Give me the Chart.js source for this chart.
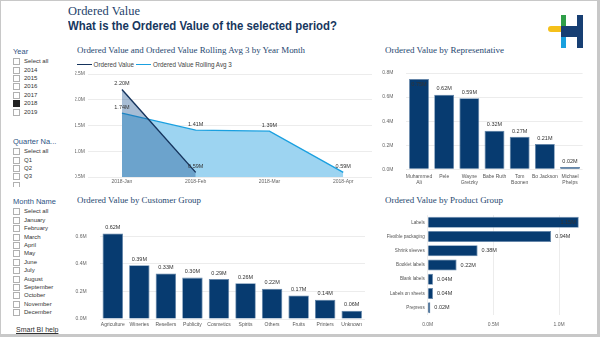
<!DOCTYPE html>
<html>
<head>
<meta charset="utf-8">
<script src="https://cdn.jsdelivr.net/npm/chart.js@4.4.0/dist/chart.umd.min.js"></script>
<style>
  body { margin: 0; width: 600px; height: 337px; position: relative; overflow: hidden; background: #fff; font-family: "Liberation Sans", Arial, sans-serif; }
  .frame { position: absolute; left: 0; top: 0; width: 600px; height: 337px; box-sizing: border-box; border: 1px solid #c8c8c8; border-right-width: 3px; border-bottom-width: 3px; }
  .abs { position: absolute; white-space: nowrap; }
  .fit { display: inline-block; transform-origin: left center; }
  .ptitle { font-family: "Liberation Serif", serif; font-size: 13px; color: #1e3f6b; }
  .psub { font-weight: bold; font-size: 12px; color: #17375e; }
  .ctitle { font-family: "Liberation Serif", serif; font-size: 9px; color: #26476f; }
  .shead { font-size: 7.5px; color: #2c5283; }
  .sitem { font-size: 6px; color: #333; line-height: 6px; }
  .box { position: absolute; width: 5px; height: 5px; border: 1px solid #b0b0b0; background: #fff; }
  .box.on { background: #222; border-color: #222; }
  .chart { position: absolute; }
  .legend { font-size: 6.3px; color: #444; }
  .lg-line { position: absolute; height: 1.5px; }
</style>
</head>
<body>
<div class="frame"></div>

<div class="abs ptitle" style="left:68px; top:3px;"><span class="fit" data-w="72">Ordered Value</span></div>
<div class="abs psub" style="left:68px; top:19px;"><span class="fit" data-w="269">What is the Ordered Value of the selected period?</span></div>

<!-- logo -->
<div class="abs" style="left:548px; top:26px; width:14px; height:6px; background:#f5c01a; border-radius:3px 0 0 3px;"></div>
<div class="abs" style="left:561px; top:15px; width:5px; height:11px; background:#2e9e48;"></div>
<div class="abs" style="left:561px; top:37px; width:5px; height:11px; background:#19a0de;"></div>
<div class="abs" style="left:561px; top:26px; width:22px; height:11px; background:#173f73;"></div>
<div class="abs" style="left:577px; top:15px; width:6px; height:33px; background:#173f73;"></div>

<div id="slicers"></div>
<div class="abs" style="left:16px; top:326px; font-size:7px; color:#333; text-decoration:underline;">Smart BI help</div>

<div class="abs ctitle" style="left:77px; top:45px;"><span class="fit" data-w="228">Ordered Value and Ordered Value Rolling Avg 3 by Year Month</span></div>
<div class="abs ctitle" style="left:385px; top:45px;"><span class="fit" data-w="119">Ordered Value by Representative</span></div>
<div class="abs ctitle" style="left:77px; top:195px;"><span class="fit" data-w="124">Ordered Value by Customer Group</span></div>
<div class="abs ctitle" style="left:385px; top:195px;"><span class="fit" data-w="118">Ordered Value by Product Group</span></div>

<div id="legend1"></div>
<div class="chart" style="left:75px; top:57px; width:300px; height:132px;"><canvas id="c1"></canvas></div>
<div class="chart" style="left:380px; top:57px; width:218px; height:130px;"><canvas id="c2"></canvas></div>
<div class="chart" style="left:75px; top:208px; width:300px; height:127px;"><canvas id="c3"></canvas></div>
<div class="chart" style="left:380px; top:208px; width:218px; height:127px;"><canvas id="c4"></canvas></div>

<script>
// slicer lists
const yearItems = ['Select all', '2014', '2015', '2016', '2017', '2018', '2019'];
const quarterItems = ['Select all', 'Q1', 'Q2', 'Q3', 'Q4'];
const monthItems = ['Select all', 'January', 'February', 'March', 'April', 'May', 'June', 'July',
    'August', 'September', 'October', 'November', 'December'];

// line chart
const months = ['2018-Jan', '2018-Feb', '2018-Mar', '2018-Apr'];
const orderedValue = [2.20, 0.59, null, null];
const rollingAvg3 = [1.74, 1.41, 1.39, 0.59];

// representatives
const repNames = [['Muhammed', 'Ali'], 'Pele', ['Wayne', 'Gretzky'], 'Babe Ruth', ['Tom', 'Boonen'], 'Bo Jackson', ['Michael', 'Phelps']];
const repValues = [0.75, 0.62, 0.59, 0.32, 0.27, 0.21, 0.02];

// customer groups
const customerGroups = ['Agriculture', 'Wineries', 'Resellers', 'Publicity', 'Cosmetics', 'Spirits', 'Others', 'Fruits', 'Printers', 'Unknown'];
const customerValues = [0.62, 0.39, 0.33, 0.30, 0.29, 0.26, 0.22, 0.17, 0.14, 0.06];

// product groups
const productGroups = ['Labels', 'Flexible packaging', 'Shrink sleeves', 'Booklet labels', 'Blank labels', 'Labels on sheets', 'Prepress'];
const productValues = [1.15, 0.94, 0.38, 0.22, 0.04, 0.04, 0.02];

const NAVY = '#073b70';
const LIGHT = '#1aa0e0';
const TICK_FONT = { family: 'Liberation Sans', size: 5 };

// ---- slicers ----
const slicerHtml = [];
const addSlicer = (title, items, top, clipBottom, checked) => {
    slicerHtml.push(`<div class="abs shead" style="left:13px; top:${top - 5}px;">${title}</div>`);
    items.forEach((it, i) => {
        const y = top + 9.4 + i * 8.4;
        if (clipBottom && y > clipBottom) return;
        const h = clipBottom && y + 3 > clipBottom ? clipBottom - (y - 3) : null;
        const cls = it === checked ? 'box on' : 'box';
        slicerHtml.push(`<div class="${cls}" style="left:13px; top:${y - 3}px;${h ? ' height:' + h + 'px; border-bottom:none;' : ''}"></div>`);
        if (!h)
            slicerHtml.push(`<div class="abs sitem" style="left:24px; top:${y - 3}px;">${it}</div>`);
    });
};
addSlicer('Year', yearItems, 51.7, null, '2018');
addSlicer('Quarter Na...', quarterItems, 141.7, 186, null);
addSlicer('Month Name', monthItems, 202, null, null);
document.querySelector('#slicers').innerHTML = slicerHtml.join('');

// fit title widths
document.querySelectorAll('.fit').forEach(el => {
    const w = el.getBoundingClientRect().width;
    el.style.transform = `scaleX(${el.dataset.w / w})`;
});

// ---- value labels plugin ----
const valueLabels = {
    id: 'valueLabels',
    afterDatasetsDraw(chart) {
        const { ctx, chartArea } = chart;
        const isBar = chart.config.type === 'bar';
        const horizontal = chart.options.indexAxis === 'y';
        ctx.save();
        ctx.font = '5.5px "Liberation Sans"';
        ctx.fillStyle = '#333';
        chart.data.datasets.forEach((ds, i) => {
            const meta = chart.getDatasetMeta(i);
            meta.data.forEach((el, j) => {
                const raw = ds.data[j];
                const v = raw !== null && typeof raw === 'object' ? raw.y : raw;
                if (v === null || v === undefined)
                    return;
                const txt = v.toFixed(2) + 'M';
                ctx.textBaseline = 'middle';
                if (horizontal) {
                    const w = ctx.measureText(txt).width;
                    if (el.x + 4 + w > chartArea.right) {
                        ctx.textAlign = 'right';
                        ctx.fillText(txt, el.x - 3, el.y);
                    } else {
                        ctx.textAlign = 'left';
                        ctx.fillText(txt, el.x + 4, el.y);
                    }
                } else {
                    ctx.textAlign = 'center';
                    if (isBar && el.y - 8.5 < chartArea.top)
                        ctx.fillText(txt, el.x, el.y + 5.3);
                    else
                        ctx.fillText(txt, el.x, el.y - 5.8);
                }
            });
        });
        ctx.restore();
    }
};

Chart.defaults.animation = false;
Chart.defaults.responsive = true;
Chart.defaults.maintainAspectRatio = false;
Chart.defaults.plugins.legend.display = false;
Chart.defaults.plugins.tooltip.enabled = false;
Chart.defaults.color = '#666';

const yTicksM = (pad) => ({ font: TICK_FONT, padding: pad, autoSkip: false, callback: v => v.toFixed(1) + 'M' });
const grid = { color: '#ececec', lineWidth: 1, drawTicks: false };
const noGrid = { display: false, drawTicks: false };

// ---- chart 1: line / area ----
const lineSets = [
    { label: 'Ordered Value', values: orderedValue, line: '#15335c', fill: 'rgba(35,90,150,0.4)' },
    { label: 'Ordered Value Rolling Avg 3', values: rollingAvg3, line: LIGHT, fill: '#9dd4f1' }
];
document.querySelector('#legend1').innerHTML = (() => {
    let x = 77;
    const out = [];
    const ctx = document.createElement('canvas').getContext('2d');
    ctx.font = '6.3px "Liberation Sans"';
    lineSets.forEach(s => {
        out.push(`<div class="lg-line" style="left:${x}px; top:63.5px; width:15px; background:${s.line};"></div>`);
        out.push(`<div class="abs legend" style="left:${x + 16.5}px; top:60.5px;">${s.label}</div>`);
        x += 16.5 + ctx.measureText(s.label).width + 2.5;
    });
    return out.join('');
})();

new Chart(document.querySelector('#c1'), {
    type: 'line',
    data: {
        datasets: lineSets.map(s => ({
            label: s.label,
            data: s.values.map((v, i) => ({ x: i, y: v })),
            borderColor: s.line,
            backgroundColor: s.fill,
            borderWidth: 1.4,
            pointRadius: 0,
            tension: 0,
            fill: 'start',
            spanGaps: false
        }))
    },
    options: {
        layout: { padding: { top: 17, right: 3, left: 0, bottom: 0 } },
        scales: {
            x: {
                type: 'linear', min: -0.46, max: 3.39,
                grid: noGrid, border: { display: false },
                afterBuildTicks: s => { s.ticks = months.map((m, i) => ({ value: i })); },
                afterFit: s => { s.height = 12; },
                ticks: { font: TICK_FONT, padding: 2, maxRotation: 0, autoSkip: false, callback: v => months[v] }
            },
            y: {
                min: 0.5, max: 2.5,
                grid, border: { display: false },
                afterBuildTicks: s => { s.ticks = [0.5, 1, 1.5, 2, 2.5].map(v => ({ value: v })); },
                afterFit: s => { s.width = 13; },
                ticks: yTicksM(3)
            }
        }
    },
    plugins: [valueLabels]
});

// ---- vertical bar helper ----
const barChart = (el, labels, values, yMax, tickVals, pad, yWidth, yPad, xHeight, xPad, catPct) => new Chart(el, {
    type: 'bar',
    data: {
        labels,
        datasets: [{
            data: values,
            backgroundColor: NAVY,
            borderColor: '#5f83a8',
            borderWidth: 0.8,
            categoryPercentage: catPct,
            barPercentage: 1
        }]
    },
    options: {
        layout: { padding: pad },
        scales: {
            x: {
                grid: noGrid, border: { display: false },
                afterFit: s => { s.height = xHeight; },
                ticks: { font: TICK_FONT, padding: xPad, maxRotation: 0, autoSkip: false, color: '#555' }
            },
            y: {
                min: 0, max: yMax,
                grid, border: { display: false },
                afterBuildTicks: s => { s.ticks = tickVals.map(v => ({ value: v })); },
                afterFit: s => { s.width = yWidth; },
                ticks: yTicksM(yPad)
            }
        }
    },
    plugins: [valueLabels]
});

// ---- chart 2: representatives ----
barChart(document.querySelector('#c2'), repNames, repValues, 0.8, [0, 0.2, 0.4, 0.6, 0.8],
    { top: 4, right: 15.4, left: 0, bottom: 0 }, 26.4, 13, 17.7, 4.5, 0.79);

// ---- chart 3: customer groups ----
barChart(document.querySelector('#c3'), customerGroups, customerValues, 0.69, [0, 0.2, 0.4, 0.6],
    { top: 5, right: 10, left: 0, bottom: 0 }, 24.5, 12.8, 16, 3, 0.77);

// ---- chart 4: product groups (horizontal) ----
new Chart(document.querySelector('#c4'), {
    type: 'bar',
    data: {
        labels: productGroups,
        datasets: [{
            data: productValues,
            backgroundColor: NAVY,
            borderColor: '#5f83a8',
            borderWidth: 0.8,
            categoryPercentage: 0.77,
            barPercentage: 1
        }]
    },
    options: {
        indexAxis: 'y',
        layout: { padding: { top: 7.2, right: 16, left: 0, bottom: 0 } },
        scales: {
            x: {
                min: 0, max: 1.175,
                grid, border: { display: false },
                afterBuildTicks: s => { s.ticks = [0, 0.5, 1].map(v => ({ value: v })); },
                afterFit: s => { s.height = 20.2; },
                ticks: { font: TICK_FONT, padding: 7, autoSkip: false, callback: v => v.toFixed(1) + 'M' }
            },
            y: {
                grid: noGrid, border: { display: false },
                afterFit: s => { s.width = 47.7; },
                ticks: { font: { family: 'Liberation Sans', size: 4.6 }, padding: 3, autoSkip: false, color: '#555' }
            }
        }
    },
    plugins: [valueLabels]
});
</script>
</body>
</html>
